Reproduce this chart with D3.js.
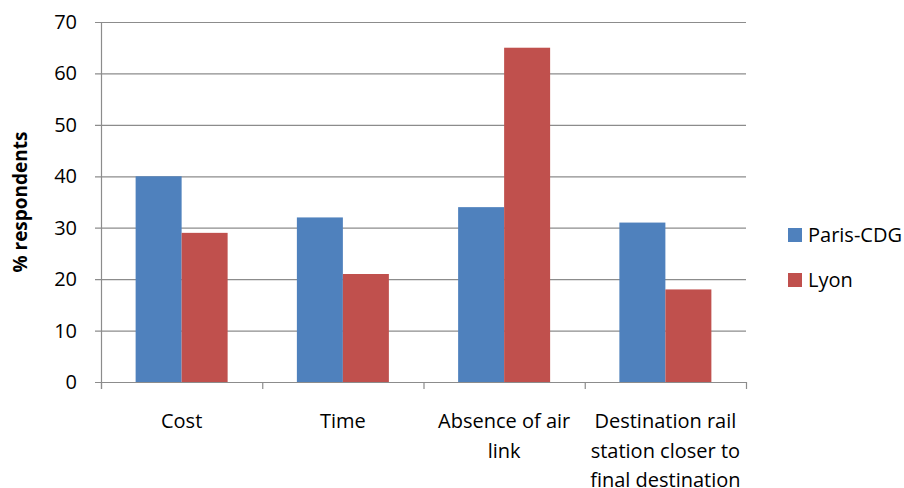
<!DOCTYPE html>
<html>
<head>
<meta charset="utf-8">
<script src="https://cdn.jsdelivr.net/npm/d3@7"></script>
<style>
  html, body { margin: 0; padding: 0; background: #fff; }
  svg { display: block; font-family: "Open Sans", "Noto Sans", sans-serif; }
</style>
</head>
<body>
<svg id="chart" width="904" height="488"></svg>
<script>
// Reasons for choosing rail, by airport
const categories = [
  ["Cost"],
  ["Time"],
  ["Absence of air", "link"],
  ["Destination rail", "station closer to", "final destination"]
];
const seriesNames = ["Paris-CDG", "Lyon"];
const parisValues = [40, 32, 34, 31];
const lyonValues = [29, 21, 65, 18];
const yTicks = [0, 10, 20, 30, 40, 50, 60, 70];
const colors = ["#4F81BD", "#C0504D"];

const svg = d3.select("#chart");
const plot = { left: 101, right: 746, top: 22, bottom: 382 };
const fontSize = 20;

const x0 = d3.scaleBand()
  .domain(d3.range(categories.length))
  .range([plot.left, plot.right])
  .padding(0);

const groupWidth = 92;
const x1 = d3.scaleBand()
  .domain(d3.range(seriesNames.length))
  .range([(x0.bandwidth() - groupWidth) / 2, (x0.bandwidth() + groupWidth) / 2])
  .padding(0);

const y = d3.scaleLinear().domain([0, 70]).range([plot.bottom, plot.top]);

const gridColor = "#8c8c8c";

// horizontal gridlines
svg.append("g")
  .selectAll("line")
  .data(yTicks)
  .join("line")
  .attr("x1", plot.left - 6)
  .attr("x2", plot.right)
  .attr("y1", d => y(d) + 0.5)
  .attr("y2", d => y(d) + 0.5)
  .attr("stroke", gridColor)
  .attr("stroke-width", 1.2);

// bars
const rows = categories.map((c, i) => [parisValues[i], lyonValues[i]]);
svg.append("g")
  .selectAll("g")
  .data(rows)
  .join("g")
  .attr("transform", (d, i) => `translate(${x0(i)},0)`)
  .selectAll("rect")
  .data(d => d.map((v, s) => ({ v, s })))
  .join("rect")
  .attr("x", d => x1(d.s))
  .attr("width", x1.bandwidth())
  .attr("y", d => y(d.v))
  .attr("height", d => y(0) - y(d.v))
  .attr("fill", d => colors[d.s]);

// value axis line
svg.append("line")
  .attr("x1", plot.left + 0.5).attr("x2", plot.left + 0.5)
  .attr("y1", plot.top).attr("y2", plot.bottom + 7)
  .attr("stroke", gridColor).attr("stroke-width", 1.2);

// category axis line and tick marks
svg.append("line")
  .attr("x1", plot.left).attr("x2", plot.right)
  .attr("y1", plot.bottom + 0.5).attr("y2", plot.bottom + 0.5)
  .attr("stroke", gridColor).attr("stroke-width", 1.2);

const catTicks = d3.range(categories.length + 1).map(i => plot.left + i * x0.step());
svg.append("g")
  .selectAll("line")
  .data(catTicks)
  .join("line")
  .attr("x1", d => d + 0.5).attr("x2", d => d + 0.5)
  .attr("y1", plot.bottom).attr("y2", plot.bottom + 7)
  .attr("stroke", gridColor).attr("stroke-width", 1.2);

// y tick labels
svg.append("g")
  .selectAll("text")
  .data(yTicks)
  .join("text")
  .attr("x", 77)
  .attr("y", d => y(d))
  .attr("dy", "0.35em")
  .attr("text-anchor", "end")
  .attr("font-size", fontSize)
  .attr("fill", "#000")
  .text(d => d);

// category labels
const lineHeight = 29.5;
svg.append("g")
  .selectAll("text")
  .data(categories)
  .join("text")
  .attr("text-anchor", "middle")
  .attr("font-size", fontSize)
  .attr("fill", "#000")
  .attr("transform", (d, i) => `translate(${x0(i) + x0.bandwidth() / 2},428)`)
  .selectAll("tspan")
  .data(d => d)
  .join("tspan")
  .attr("x", 0)
  .attr("y", (d, j) => j * lineHeight)
  .text(d => d);

// y axis title
svg.append("text")
  .attr("transform", `translate(27,${(plot.top + plot.bottom) / 2}) rotate(-90)`)
  .attr("text-anchor", "middle")
  .attr("font-size", 19)
  .attr("font-weight", "bold")
  .attr("fill", "#000")
  .text("% respondents");

// legend
const legend = svg.append("g")
  .selectAll("g")
  .data(seriesNames)
  .join("g")
  .attr("transform", (d, i) => `translate(788,${228 + i * 45})`);
legend.append("rect")
  .attr("width", 14).attr("height", 14)
  .attr("fill", (d, i) => colors[i]);
legend.append("text")
  .attr("x", 20).attr("y", 7).attr("dy", "0.36em")
  .attr("font-size", fontSize)
  .attr("fill", "#000")
  .text(d => d);
</script>
</body>
</html>
